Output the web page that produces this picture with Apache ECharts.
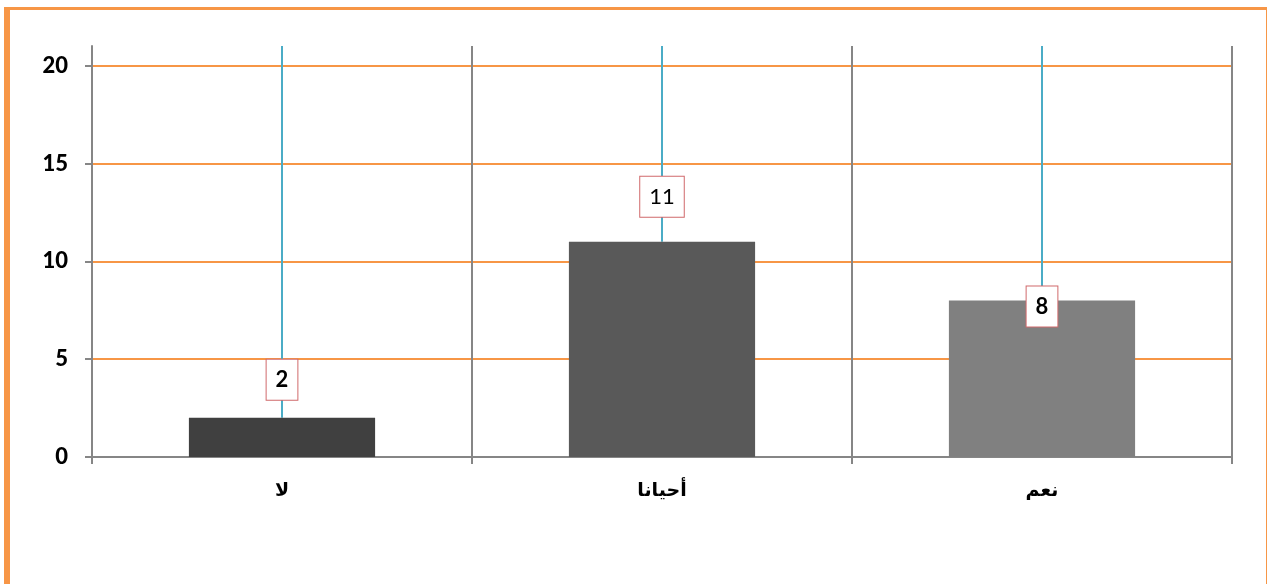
<!DOCTYPE html>
<html>
<head>
<meta charset="utf-8">
<script src="https://cdn.jsdelivr.net/npm/echarts@6/dist/echarts.min.js"></script>
<style>
html,body{margin:0;padding:0;background:#fff;}
#c{width:1268px;height:584px;}
</style>
</head>
<body>
<div id="c"></div>
<script>
// ---- data ----
const categories = ['لا', 'أحيانا', 'نعم'];
const values = [2, 11, 8];
const yTicks = [0, 5, 10, 15, 20];
const yMax = 21;

// ---- styling ----
const barColors = ['#404040', '#595959', '#808080'];
const labelDistances = [18, 25, -26];
const labelWeights = ['bold', 'normal', 'bold'];
const numFont = 'Lato, "DejaVu Sans", sans-serif';
const arFont = '"DejaVu Sans", Lato, sans-serif';

const chart = echarts.init(document.getElementById('c'));

const barData = values.map((v, i) => ({
  value: v,
  itemStyle: { color: barColors[i] },
  label: { distance: labelDistances[i], fontWeight: labelWeights[i] }
}));

const dropData = values.map((v, i) => [i, v]);

chart.setOption({
  animation: false,
  backgroundColor: '#fff',
  graphic: [
    { type: 'rect', shape: { x: 4, y: 7, width: 6, height: 577 }, style: { fill: '#f79646' }, z: 100 },
    { type: 'rect', shape: { x: 4, y: 7, width: 1263, height: 3 }, style: { fill: '#f79646' }, z: 100 },
    { type: 'rect', shape: { x: 1266, y: 7, width: 1, height: 577 }, style: { fill: '#f79646' }, z: 100 }
  ],
  grid: { left: 92, right: 36, top: 46, bottom: 127, containLabel: false },
  xAxis: {
    type: 'category',
    data: categories,
    boundaryGap: true,
    axisLine: { show: true, lineStyle: { color: '#868686', width: 2 } },
    axisTick: { show: true, length: 7, lineStyle: { color: '#868686', width: 2 } },
    splitLine: { show: true, lineStyle: { color: '#868686', width: 2 } },
    axisLabel: { fontFamily: arFont, fontWeight: 'bold', fontSize: 19, color: '#000', margin: 25 }
  },
  yAxis: {
    type: 'value',
    min: 0,
    max: yMax,
    interval: 5,
    axisLine: { show: true, lineStyle: { color: '#868686', width: 2 } },
    axisTick: { show: true, length: 7, customValues: yTicks, lineStyle: { color: '#868686', width: 2 } },
    axisLabel: { customValues: yTicks, fontFamily: numFont, fontWeight: 900, fontSize: 22, color: '#000', margin: 24 },
    splitLine: { show: true, showMaxLine: true, lineStyle: { color: '#f79646', width: 2 } }
  },
  series: [
    {
      type: 'custom',
      z: 1,
      data: dropData,
      encode: { x: 0, y: 1 },
      renderItem: function (params, api) {
        const p = api.coord([api.value(0), api.value(1)]);
        const t = api.coord([api.value(0), yMax]);
        return {
          type: 'line',
          shape: { x1: p[0], y1: p[1], x2: t[0], y2: t[1] },
          style: { stroke: '#4bacc6', lineWidth: 2 }
        };
      },
      silent: true
    },
    {
      type: 'bar',
      z: 2,
      data: barData,
      barWidth: '49%',
      label: {
        show: true,
        position: 'top',
        fontFamily: numFont,
        fontSize: 22,
        lineHeight: 22,
        color: '#000',
        backgroundColor: '#fff',
        borderColor: '#d0696b',
        borderWidth: 1,
        padding: [9, 9]
      }
    }
  ]
});
</script>
</body>
</html>
